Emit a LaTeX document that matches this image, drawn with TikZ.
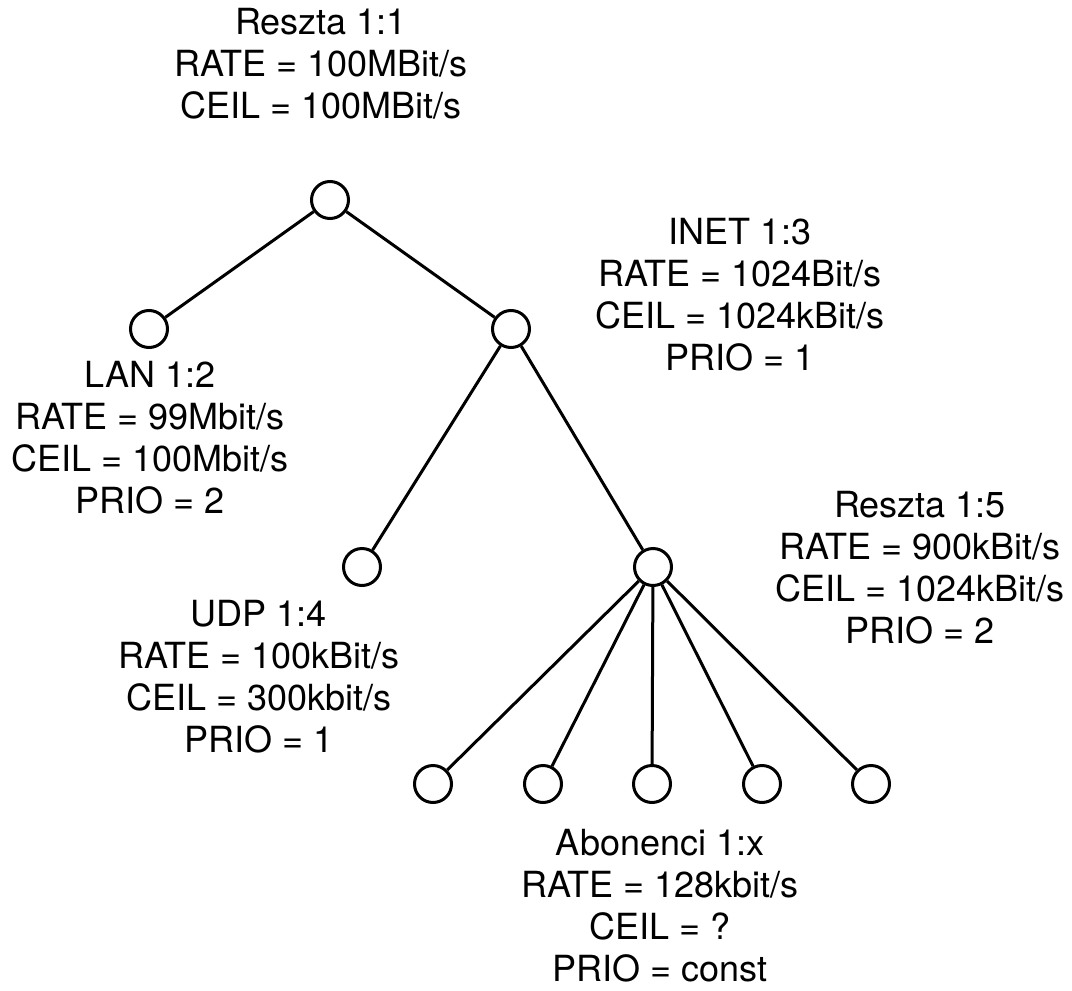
\documentclass[tikz,border=0pt]{standalone}
\usepackage{fontspec}
\setmainfont{TeX Gyre Heros}
\begin{document}
\begin{tikzpicture}[x=1pt,y=-1pt,
  cls/.style={circle,draw,line width=3pt,minimum size=37pt,inner sep=0pt},
  edge/.style={line width=3pt},
  info/.style={align=center,inner sep=0pt,font=\fontsize{36}{42}\selectfont}]
\useasboundingbox (0,0) rectangle (1072,991);
% class nodes
\node[cls] (root) at (330,200) {};
\node[cls] (lan) at (149,329) {};
\node[cls] (inet) at (511,329) {};
\node[cls] (udp) at (362,567) {};
\node[cls] (rest) at (653,567) {};
\node[cls] (a1) at (433,784) {};
\node[cls] (a2) at (543,784) {};
\node[cls] (a3) at (652,784) {};
\node[cls] (a4) at (762,784) {};
\node[cls] (a5) at (871,784) {};
% tree edges
\draw[edge] (root) -- (lan);
\draw[edge] (root) -- (inet);
\draw[edge] (inet) -- (udp);
\draw[edge] (inet) -- (rest);
\foreach \leaf in {a1,a2,a3,a4,a5}
  \draw[edge] (rest) -- (\leaf);
% class parameters
\node[info] (troot) at (321,64) {Reszta 1:1\\RATE = 100MBit/s\\CEIL = 100MBit/s};
\node[info] (tinet) at (740,295) {INET 1:3\\RATE = 1024Bit/s\\CEIL = 1024kBit/s\\PRIO = 1};
\node[info] (tlan) at (150,438) {LAN 1:2\\RATE = 99Mbit/s\\CEIL = 100Mbit/s\\PRIO = 2};
\node[info] (tudp) at (259,677) {UDP 1:4\\RATE = 100kBit/s\\CEIL = 300kbit/s\\PRIO = 1};
\node[info] (trest) at (920,568) {Reszta 1:5\\RATE = 900kBit/s\\CEIL = 1024kBit/s\\PRIO = 2};
\node[info] (tab) at (660,906) {Abonenci 1:x\\RATE = 128kbit/s\\CEIL = ?\\PRIO = const};
\end{tikzpicture}
\end{document}
